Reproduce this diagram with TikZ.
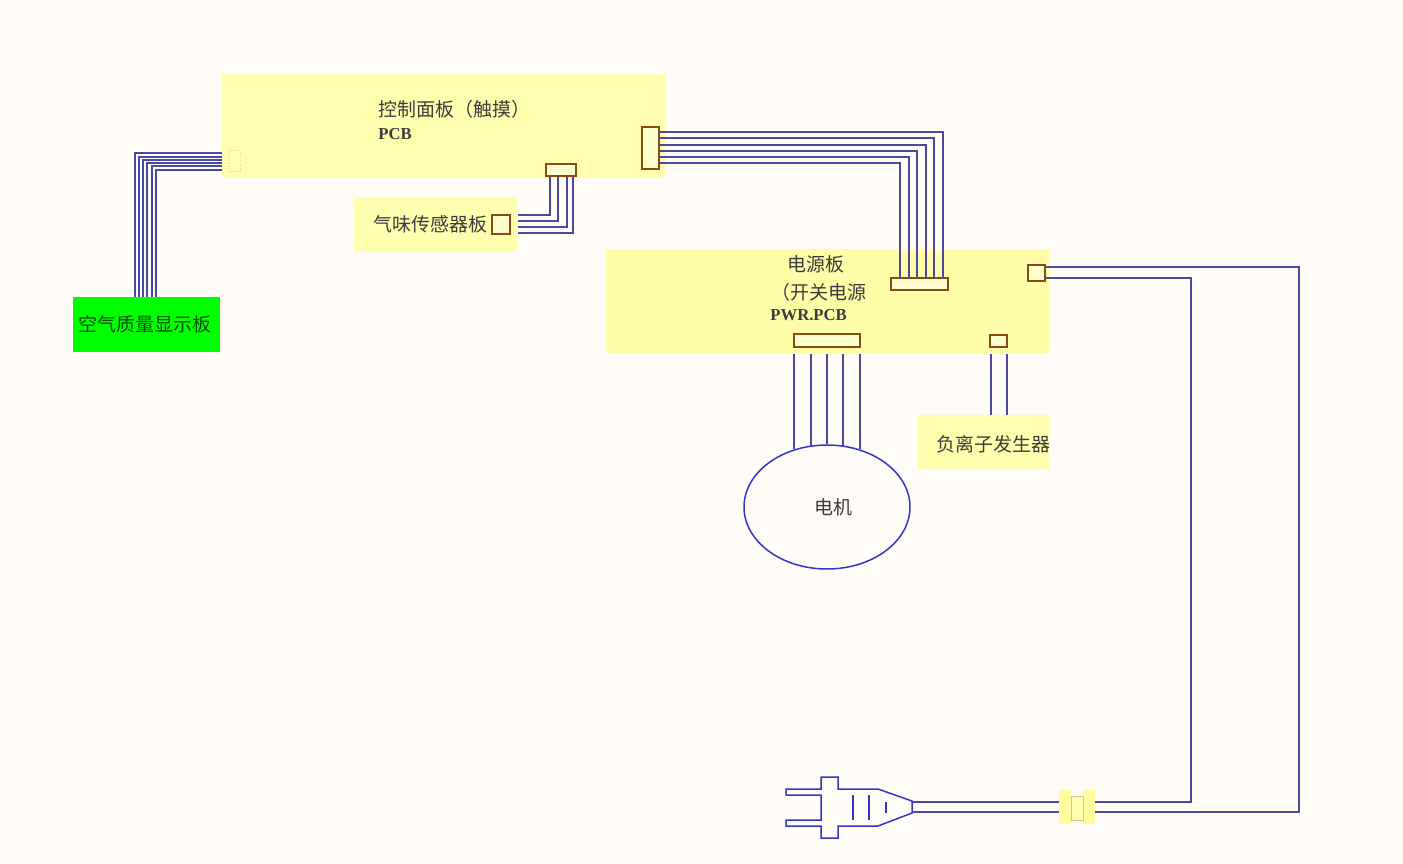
\documentclass[tikz,border=0pt]{standalone}
\usepackage{fontspec}
\usetikzlibrary{shapes.geometric}
\setmainfont{Liberation Serif}
\newfontfamily\cjk{Noto Sans CJK SC}
\definecolor{paper}{HTML}{FFFCF7}
\definecolor{board}{HTML}{FFFDAE}
\definecolor{wirec}{HTML}{4A4AA4}
\definecolor{plugc}{HTML}{3535C8}
\definecolor{pinc}{HTML}{8A4A14}
\definecolor{inkc}{HTML}{3C3C3C}
\tikzset{
	board/.style={fill=board, draw=none, minimum width=#1, inner sep=0pt, anchor=north west},
	pin/.style={draw=pinc, line width=.03cm, fill=board!60!white, inner sep=0pt},
	wire/.style={draw=wirec, line width=.04cm},
	plugline/.style={draw=plugc, line width=.03cm, line join=miter},
	lab/.style={font=\cjk\fontsize{10.8}{13}\selectfont, text=inkc, inner sep=0pt, anchor=west},
	pcb/.style={font=\bfseries\fontsize{9.5}{11}\selectfont, text=inkc, inner sep=0pt, anchor=west}
}
\begin{document}
\begin{tikzpicture}[x=0.02cm,y=-0.02cm]
	\fill[paper] (0,0) rectangle (1403,863);
	\useasboundingbox (0,0) rectangle (1403,863);

	% boards
	\node[board=8.86cm, minimum height=2.08cm] (ctrl) at (222,74) {};
	\node[board=3.26cm, minimum height=1.10cm] (smell) at (354,197) {};
	\node[board=8.86cm, minimum height=2.08cm, fill=board!96!yellow] (power) at (606,249) {};
	\node[board=2.94cm, minimum height=1.10cm, fill=green] (air) at (73,297) {};
	\node[board=2.64cm, minimum height=1.10cm] (ion) at (917,415) {};
	\node[draw=plugc, line width=.03cm, ellipse, minimum width=3.32cm, minimum height=2.48cm, inner sep=0pt] (motor) at (827,507) {};

	% connectors on the boards
	\node[pin, minimum width=.34cm, minimum height=.84cm] (ctrlR) at (650.5,148) {};
	\node[pin, minimum width=.60cm, minimum height=.24cm] (ctrlB) at (561,170) {};
	\node[draw=board!85!black, line width=.02cm, densely dotted, minimum width=.24cm, minimum height=.42cm, inner sep=0pt] (ctrlL) at (234,160.5) {};
	\node[pin, minimum width=.36cm, minimum height=.38cm] (smellP) at (501,224.5) {};
	\node[pin, minimum width=1.14cm, minimum height=.24cm] (powerT) at (919.5,284) {};
	\node[pin, minimum width=1.32cm, minimum height=.26cm] (powerB) at (827,340.5) {};
	\node[pin, minimum width=.34cm, minimum height=.24cm] (powerS) at (998.5,341) {};
	\node[pin, minimum width=.34cm, minimum height=.32cm] (powerR) at (1036.5,273) {};

	% labels
	\node[lab] (ctrlT) at (378,109) {控制面板（触摸）};
	\node[pcb] (ctrlP) at (378,134) {PCB};
	\node[lab] (smellT) at (373,224) {气味传感器板};
	\node[lab, text=black!70!green] (airT) at (78,324) {空气质量显示板};
	\node[lab] (powerN) at (787,264) {电源板};
	\node[lab] (powerK) at (771,292) {（开关电源};
	\node[pcb] (powerP) at (770,315) {PWR.PCB};
	\node[lab] (ionT) at (936,444) {负离子发生器};
	\node[lab] (motorT) at (814,507) {电机};

	% air quality harness
	\foreach \x/\y in {135/153,139/156.5,143/160,147/163,152/166,156/169.5}
		\draw[wire] (ctrl.west |- 0,\y) -| (\x,0 |- air.north);

	% smell sensor harness
	\foreach \x/\y in {550/215,558/221,567/227,573/233}
		\draw[wire] (smell.east |- 0,\y) -| (\x,0 |- ctrlB.south);

	% power harness
	\foreach \x/\y in {943/132,934/138,926/145,917/151,909/157,900/163}
		\draw[wire] (ctrlR.east |- 0,\y) -| (\x,0 |- powerT.north);

	% motor and ion wires
	\foreach \a in {120,105,90,75,60}
		\draw[wire] (motor.\a |- power.south) -- (motor.\a);
	\foreach \x in {991,1007}
		\draw[wire] (\x,0 |- power.south) -- (\x,0 |- ion.north);

	% plug
	\coordinate (tipA) at (912,802);
	\coordinate (tipB) at (912,812);
	\draw[plugline] (838,789) -- (878,789) -- (912,801) -- (912,813) -- (878,826) -- (838,826)
		-- (838,838) -- (821,838) -- (821,826) -- (786,826) -- (786,820) -- (821,820)
		-- (821,795) -- (786,795) -- (786,789) -- (821,789) -- (821,777) -- (838,777) -- cycle;
	\draw[plugline] (853,795) -- (853,820);
	\draw[plugline] (869,795) -- (869,820);
	\draw[plugline] (886,802) -- (886,813);

	% mains cable
	\draw[wire] (powerR.east |- 0,267) -| (1299,812) -- (tipB);
	\draw[wire] (powerR.east |- 0,278) -| (1191,802) -- (tipA);

	% clamp
	\node[board=.24cm, minimum height=.68cm, fill=board!90!yellow] (clampA) at (1059,790) {};
	\node[board=.24cm, minimum height=.68cm, fill=board!90!yellow] (clampB) at (1083,790) {};
	\node[board=.24cm, minimum height=.48cm, draw=board!80!black, line width=.01cm] (clampM) at (1071,796) {};
\end{tikzpicture}
\end{document}
